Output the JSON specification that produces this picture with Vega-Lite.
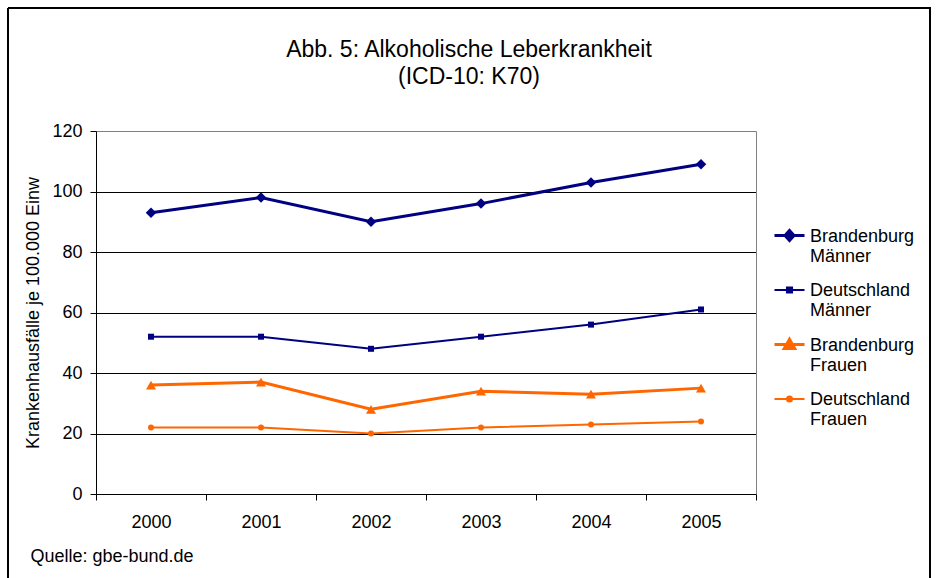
{
  "$schema": "https://vega.github.io/schema/vega-lite/v6.json",
  "autosize": {"type": "none"},
  "padding": {"left": 8, "top": 8, "right": 6, "bottom": 0},
  "width": 922,
  "height": 570,
  "background": "#ffffff",
  "title": {
    "text": ["Abb. 5: Alkoholische Leberkrankheit", "(ICD-10: K70)"],
    "fontSize": 23,
    "fontWeight": "normal",
    "lineHeight": 27,
    "anchor": "middle",
    "frame": "group",
    "offset": 0,
    "baseline": "alphabetic",
    "dy": 99,
    "color": "#000000"
  },
  "data": {
    "values": [
      {"year": "2000", "series": "Brandenburg Männer", "value": 93},
      {"year": "2001", "series": "Brandenburg Männer", "value": 98},
      {"year": "2002", "series": "Brandenburg Männer", "value": 90},
      {"year": "2003", "series": "Brandenburg Männer", "value": 96},
      {"year": "2004", "series": "Brandenburg Männer", "value": 103},
      {"year": "2005", "series": "Brandenburg Männer", "value": 109},
      {"year": "2000", "series": "Deutschland Männer", "value": 52},
      {"year": "2001", "series": "Deutschland Männer", "value": 52},
      {"year": "2002", "series": "Deutschland Männer", "value": 48},
      {"year": "2003", "series": "Deutschland Männer", "value": 52},
      {"year": "2004", "series": "Deutschland Männer", "value": 56},
      {"year": "2005", "series": "Deutschland Männer", "value": 61},
      {"year": "2000", "series": "Brandenburg Frauen", "value": 36},
      {"year": "2001", "series": "Brandenburg Frauen", "value": 37},
      {"year": "2002", "series": "Brandenburg Frauen", "value": 28},
      {"year": "2003", "series": "Brandenburg Frauen", "value": 34},
      {"year": "2004", "series": "Brandenburg Frauen", "value": 33},
      {"year": "2005", "series": "Brandenburg Frauen", "value": 35},
      {"year": "2000", "series": "Deutschland Frauen", "value": 22},
      {"year": "2001", "series": "Deutschland Frauen", "value": 22},
      {"year": "2002", "series": "Deutschland Frauen", "value": 20},
      {"year": "2003", "series": "Deutschland Frauen", "value": 22},
      {"year": "2004", "series": "Deutschland Frauen", "value": 23},
      {"year": "2005", "series": "Deutschland Frauen", "value": 24}
    ]
  },
  "encoding": {
    "x": {
      "field": "year",
      "type": "ordinal",
      "bandPosition": 0.5,
      "scale": {"type": "band", "paddingInner": 0, "paddingOuter": 0, "range": [88, 748]},
      "axis": {
        "orient": "bottom",
        "offset": -84,
        "tickBand": "extent",
        "tickSize": 6,
        "labelPadding": 13,
        "labelFontSize": 18,
        "labelAngle": 0,
        "labelColor": "#000000",
        "domainColor": "#000000",
        "tickColor": "#000000",
        "grid": false,
        "title": "Quelle: gbe-bund.de",
        "titleX": 22,
        "titleY": 67,
        "titleAlign": "left",
        "titleAnchor": "start",
        "titleBaseline": "alphabetic",
        "titleFontSize": 18,
        "titleFontWeight": "normal",
        "titleColor": "#000000"
      }
    },
    "y": {
      "field": "value",
      "type": "quantitative",
      "scale": {"domain": [0, 120], "range": [486, 123], "nice": false, "zero": true}
    },
    "color": {
      "field": "series",
      "type": "nominal",
      "scale": {
        "domain": ["Brandenburg Männer", "Deutschland Männer", "Brandenburg Frauen", "Deutschland Frauen"],
        "range": ["#000080", "#000080", "#FF6600", "#FF6600"]
      },
      "legend": null
    }
  },
  "layer": [
    {
      "mark": {"type": "line"},
      "encoding": {
        "y": {
          "field": "value",
          "type": "quantitative",
          "axis": {
            "orient": "left",
            "offset": -88,
            "values": [0, 20, 40, 60, 80, 100, 120],
            "tickSize": 6,
            "labelPadding": 8,
            "labelFontSize": 18,
            "labelColor": "#000000",
            "domainColor": "#000000",
            "tickColor": "#000000",
            "grid": true,
            "gridColor": {"condition": {"test": "datum.value === 120", "value": "#808080"}, "value": "#000000"},
            "gridWidth": 1,
            "title": "Krankenhausfälle je 100.000 Einw",
            "titleFontSize": 18,
            "titleFontWeight": "normal",
            "titleColor": "#000000",
            "titleX": -63,
            "titleBaseline": "middle"
          }
        },
        "color": {
          "field": "series",
          "type": "nominal",
          "legend": {
            "orient": "none",
            "legendX": 765,
            "legendY": 211,
            "title": null,
            "padding": 0,
            "symbolSize": 900,
            "labelFontSize": 18,
            "labelColor": "#000000",
            "labelOffset": 4,
            "rowPadding": 8,
            "labelExpr": "split(datum.label, ' ')",
            "encode": {
              "symbols": {
                "update": {
                  "shape": {"signal": "datum.value === 'Brandenburg Männer' ? 'M-1,0H1M0,-0.33L0.3,0L0,0.33L-0.3,0Z' : datum.value === 'Deutschland Männer' ? 'M-1,0H1M-0.17,-0.17H0.17V0.17H-0.17Z' : datum.value === 'Brandenburg Frauen' ? 'M-1,0H1M0,-0.35L0.35,0.27H-0.35Z' : 'M-1,0H1M0.17,0A0.17,0.17,0,1,1,-0.17,0A0.17,0.17,0,1,1,0.17,0Z'"},
                  "fill": {"signal": "indexof(datum.value, 'Männer') >= 0 ? '#000080' : '#FF6600'"},
                  "stroke": {"signal": "indexof(datum.value, 'Männer') >= 0 ? '#000080' : '#FF6600'"},
                  "strokeWidth": {"signal": "indexof(datum.value, 'Brandenburg') >= 0 ? 3 : 2"},
                  "opacity": {"value": 1}
                }
              },
              "labels": {
                "update": {
                  "baseline": {"value": "alphabetic"},
                  "dy": {"value": 6}
                }
              }
            }
          }
        },
        "strokeWidth": {
          "field": "series",
          "type": "nominal",
          "scale": {
            "type": "ordinal",
            "domain": ["Brandenburg Männer", "Deutschland Männer", "Brandenburg Frauen", "Deutschland Frauen"],
            "range": [3, 2, 3, 2]
          },
          "legend": null
        }
      }
    },
    {
      "transform": [{"filter": "datum.series === 'Brandenburg Männer'"}],
      "mark": {"type": "point", "filled": true, "opacity": 1, "shape": "diamond", "size": 110},
      "encoding": {
        "y": {
          "field": "value",
          "type": "quantitative",
          "axis": {
            "orient": "right",
            "offset": -174,
            "labels": false,
            "ticks": false,
            "grid": false,
            "domainColor": "#808080",
            "domainWidth": 1,
            "title": null
          }
        }
      }
    },
    {
      "transform": [{"filter": "datum.series === 'Deutschland Männer'"}],
      "mark": {"type": "point", "filled": true, "opacity": 1, "shape": "square", "size": 36},
      "encoding": {"y": {"field": "value", "type": "quantitative", "axis": null}}
    },
    {
      "transform": [{"filter": "datum.series === 'Brandenburg Frauen'"}],
      "mark": {"type": "point", "filled": true, "opacity": 1, "shape": "triangle-up", "size": 100},
      "encoding": {"y": {"field": "value", "type": "quantitative", "axis": null}}
    },
    {
      "transform": [{"filter": "datum.series === 'Deutschland Frauen'"}],
      "mark": {"type": "point", "filled": true, "opacity": 1, "shape": "circle", "size": 36},
      "encoding": {"y": {"field": "value", "type": "quantitative", "axis": null}}
    }
  ],
  "resolve": {"axis": {"y": "independent"}},
  "config": {
    "font": "Liberation Sans",
    "view": {"stroke": "#000000", "strokeWidth": 2, "strokeDash": [1492, 922, 570, 0]},
    "axis": {"domainWidth": 1, "tickWidth": 1}
  }
}
